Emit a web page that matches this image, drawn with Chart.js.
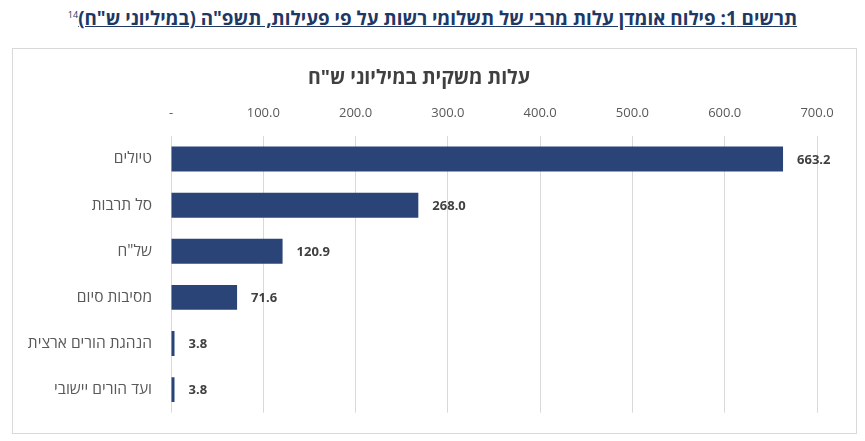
<!DOCTYPE html>
<html lang="he">
<head>
<meta charset="utf-8">
<script src="https://cdn.jsdelivr.net/npm/chart.js@4.4.1/dist/chart.umd.min.js"></script>
<style>
  html, body { margin: 0; padding: 0; background: #fff; }
  body { width: 865px; height: 441px; position: relative; overflow: hidden;
         font-family: "Open Sans", "Liberation Sans", "DejaVu Sans", sans-serif; }
  #title { position: absolute; left: 0; width: 865px; top: 5px; text-align: center;
           font-weight: bold; font-size: 18.8px; color: #203864; }
  #title span { text-decoration: underline; }
  #title sup { font-size: 9px; font-weight: normal; }
  #box { position: absolute; left: 12px; top: 48px; width: 845px; height: 386px;
         box-sizing: border-box; border: 1px solid #d9d9d9; }
</style>
</head>
<body>
<div id="title" dir="rtl"><span>תרשים 1: פילוח אומדן עלות מרבי של תשלומי רשות על פי פעילות, תשפ"ה (במיליוני ש"ח)</span><sup>14</sup></div>
<div id="box"><canvas id="cost"></canvas></div>
<script>
var categories = ["טיולים", "סל תרבות", "של\"ח", "מסיבות סיום", "הנהגת הורים ארצית", "ועד הורים יישובי"];
var costs = [663.2, 268.0, 120.9, 71.6, 3.8, 3.8];
var tickLabels = ["-", "100.0", "200.0", "300.0", "400.0", "500.0", "600.0", "700.0"];

var fontFamily = '"Open Sans", "Liberation Sans", "DejaVu Sans", sans-serif';

// values written just past the end of each bar
var barValues = {
  id: 'barValues',
  afterDatasetsDraw: function(chart) {
    var ctx = chart.ctx;
    var meta = chart.getDatasetMeta(0);
    ctx.save();
    ctx.font = 'bold 13px ' + fontFamily;
    ctx.fillStyle = '#404040';
    ctx.textAlign = 'left';
    ctx.textBaseline = 'middle';
    meta.data.forEach(function(bar, i) {
      ctx.fillText(costs[i].toFixed(1), bar.x + 14, bar.y + 1);
    });
    ctx.restore();
  }
};

var ctx = document.getElementById("cost");
var costChart = new Chart(ctx, {
  type: 'bar',
  data: {
    labels: categories,
    datasets: [{
      data: costs,
      backgroundColor: '#2B4478',
      borderColor: '#2B4478',
      borderWidth: 0,
      barPercentage: 0.9,
      categoryPercentage: 0.6
    }]
  },
  options: {
    indexAxis: 'y',
    responsive: true,
    maintainAspectRatio: false,
    animation: false,
    layout: { padding: { left: 8, right: 39, top: 0, bottom: 11 } },
    plugins: {
      legend: { display: false },
      tooltip: { enabled: false },
      title: {
        display: true,
        text: 'עלות משקית במיליוני ש"ח',
        color: '#404040',
        font: { family: fontFamily, size: 19.5, weight: 'bold' },
        padding: { top: 18, bottom: 0 }
      }
    },
    scales: {
      x: {
        position: 'top',
        min: 0,
        max: 700,
        ticks: {
          stepSize: 100,
          padding: 15,
          color: '#595959',
          font: { family: fontFamily, size: 13 },
          callback: function(value, index) { return tickLabels[index]; }
        },
        grid: { color: '#d9d9d9', lineWidth: 1, drawTicks: false },
        border: { display: false }
      },
      y: {
        ticks: {
          padding: 11,
          color: '#595959',
          font: { family: fontFamily, size: 15.5 }
        },
        grid: { display: false },
        border: { display: false },
        afterFit: function(scale) { scale.width = 150; }
      }
    }
  },
  plugins: [barValues]
});
</script>
</body>
</html>
